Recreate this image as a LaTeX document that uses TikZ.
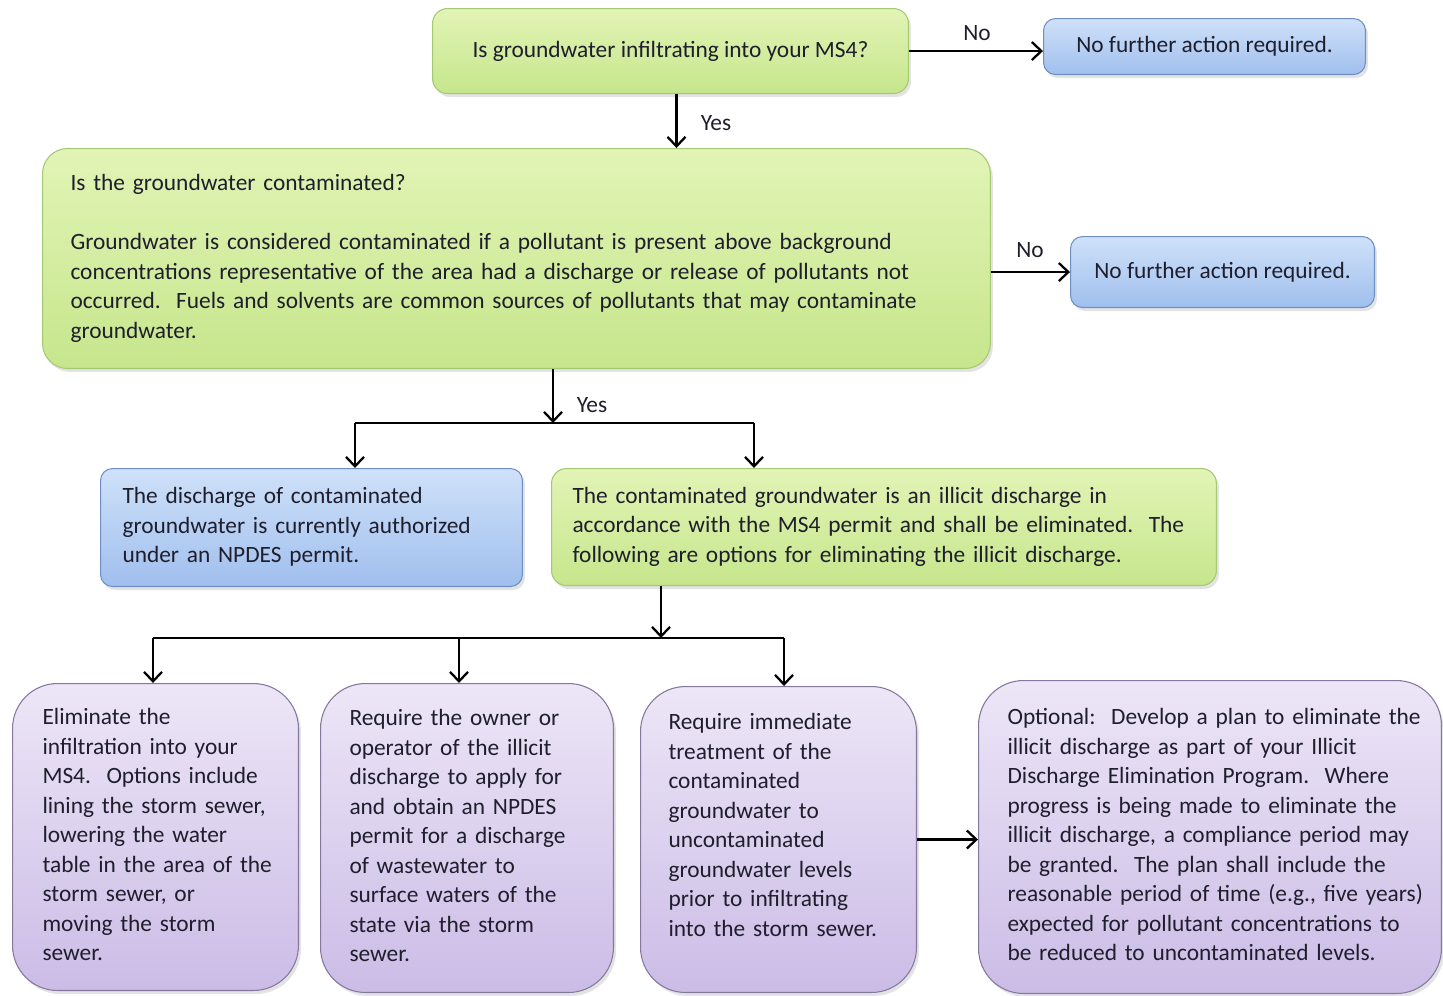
\documentclass[tikz,border=0pt]{standalone}
\usepackage{fontspec}
\setmainfont{Carlito}
\usetikzlibrary{positioning, arrows.meta, calc, shadows}

\definecolor{greentop}{HTML}{E2F4B6}
\definecolor{greenbot}{HTML}{C6E68C}
\definecolor{greenline}{HTML}{A5C872}
\definecolor{bluetop}{HTML}{CFE1F9}
\definecolor{bluebot}{HTML}{A0BFEE}
\definecolor{blueline}{HTML}{6F8FC4}
\definecolor{purptop}{HTML}{EDE6F7}
\definecolor{purpbot}{HTML}{CBBCE6}
\definecolor{purpline}{HTML}{85789E}
\definecolor{inktext}{HTML}{1E1E2C}

\newcommand{\boxfont}{\fontsize{13.3}{16.8}\selectfont}
\newcommand{\lines}[1]{\begin{tabular}{@{}l@{}}#1\end{tabular}}

\tikzset{
  box/.style={draw, anchor=north west, line width=0.6pt, font=\boxfont,
    text=inktext, inner ysep=2pt,
    drop shadow={shadow xshift=0.05cm, shadow yshift=-0.07cm, opacity=0.22}},
  greenbox/.style={box, rounded corners=0.3cm, draw=greenline,
    top color=greentop, bottom color=greenbot},
  bluebox/.style={box, rounded corners=0.24cm, draw=blueline,
    top color=bluetop, bottom color=bluebot},
  purplebox/.style={box, rounded corners=0.9cm, draw=purpline,
    top color=purptop, bottom color=purpbot},
  arrow/.style={-{Straight Barb[length=1.9mm, width=3.6mm]}, line width=1.3pt},
  branch/.style={line width=1.3pt},
  lbl/.style={font=\boxfont, text=inktext}
}

\begin{document}
\begin{tikzpicture}[x=0.02cm, y=-0.02cm]
  \useasboundingbox (0,0) rectangle (1443,995);

  % decision boxes
  \node[greenbox, minimum width=9.52cm, minimum height=1.70cm, align=center]
    (q1) at (432,8) {Is groundwater infiltrating into your MS4?};
  \node[bluebox, minimum width=6.44cm, minimum height=1.12cm, align=center]
    (none1) at (1043,18) {No further action required.};
  \node[greenbox, rounded corners=0.5cm, text width=17.84cm, inner xsep=0.56cm,
        minimum height=4.40cm, align=left]
    (q2) at (42,148) {\lines{Is the groundwater contaminated?\\
      \\
      Groundwater is considered contaminated if a pollutant is present above background\\
      concentrations representative of the area had a discharge or release of pollutants not\\
      occurred.\ \ Fuels and solvents are common sources of pollutants that may contaminate\\
      groundwater.}};
  \node[bluebox, minimum width=6.08cm, minimum height=1.42cm, align=center]
    (none2) at (1070,236) {No further action required.};

  % outcomes
  \node[bluebox, text width=7.56cm, inner xsep=0.44cm, minimum height=2.36cm,
        align=left]
    (authorized) at (100,468) {\lines{The discharge of contaminated\\
      groundwater is currently authorized\\
      under an NPDES permit.}};
  \node[greenbox, text width=12.46cm, inner xsep=0.42cm, minimum height=2.34cm,
        align=left]
    (illicit) at (551,468) {\lines{The contaminated groundwater is an illicit discharge in\\
      accordance with the MS4 permit and shall be eliminated.\ \ The\\
      following are options for eliminating the illicit discharge.}};

  % options
  \node[purplebox, text width=4.52cm, inner xsep=0.60cm, minimum height=6.14cm,
        align=left]
    (optlining) at (12,683) {\lines{Eliminate the\\
      infiltration into your\\
      MS4.\ \ Options include\\
      lining the storm sewer,\\
      lowering the water\\
      table in the area of the\\
      storm sewer, or\\
      moving the storm\\
      sewer.}};
  \node[purplebox, text width=4.70cm, inner xsep=0.58cm, minimum height=6.18cm,
        align=left]
    (optpermit) at (320,683) {\lines{Require the owner or\\
      operator of the illicit\\
      discharge to apply for\\
      and obtain an NPDES\\
      permit for a discharge\\
      of wastewater to\\
      surface waters of the\\
      state via the storm\\
      sewer.}};
  \node[purplebox, text width=4.40cm, inner xsep=0.56cm, minimum height=6.12cm,
        align=left]
    (opttreat) at (640,686) {\lines{Require immediate\\
      treatment of the\\
      contaminated\\
      groundwater to\\
      uncontaminated\\
      groundwater levels\\
      prior to infiltrating\\
      into the storm sewer.\\[0.5cm]}};
  \node[purplebox, text width=8.10cm, inner xsep=0.58cm, minimum height=6.26cm,
        align=left]
    (optplan) at (978,680) {\lines{Optional:\ \ Develop a plan to eliminate the\\
      illicit discharge as part of your Illicit\\
      Discharge Elimination Program.\ \ Where\\
      progress is being made to eliminate the\\
      illicit discharge, a compliance period may\\
      be granted.\ \ The plan shall include the\\
      reasonable period of time (e.g., five years)\\
      expected for pollutant concentrations to\\
      be reduced to uncontaminated levels.}};

  % connectors
  \draw[arrow] (q1.east) -- (q1.east -| none1.west);
  \node[lbl] (no1) at (977,33) {No};
  \draw[arrow] ([xshift=0.12cm]q1.south) -- ([xshift=0.12cm]q1.south |- q2.north);
  \node[lbl] (yes1) at (716,123) {Yes};

  \draw[arrow] (q2.east |- none2.west) -- (none2.west);
  \node[lbl] (no2) at (1030,250) {No};

  \coordinate (fork1) at (553,423);
  \coordinate (fork1l) at (355,423);
  \coordinate (fork1r) at (754,423);
  \draw[arrow] (q2.south -| fork1) -- (fork1);
  \node[lbl] (yes2) at (592,405) {Yes};
  \draw[branch] (fork1l) -- (fork1r);
  \draw[arrow] (fork1l) -- (fork1l |- authorized.north);
  \draw[arrow] (fork1r) -- (fork1r |- illicit.north);

  \coordinate (fork2) at (661,638);
  \coordinate (fork2a) at (153,638);
  \coordinate (fork2b) at (459,638);
  \coordinate (fork2c) at (784,638);
  \draw[arrow] (illicit.south -| fork2) -- (fork2);
  \draw[branch] (fork2a) -- (fork2c);
  \draw[arrow] (fork2a) -- (fork2a |- optlining.north);
  \draw[arrow] (fork2b) -- (fork2b |- optpermit.north);
  \draw[arrow] (fork2c) -- (fork2c |- opttreat.north);

  \draw[arrow] (opttreat.east) -- (opttreat.east -| optplan.west);
\end{tikzpicture}
\end{document}
